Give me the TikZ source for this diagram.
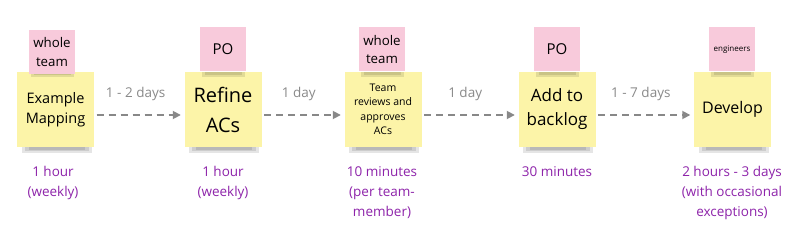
\documentclass[tikz,border=0pt]{standalone}
\usepackage{fontspec}
\setmainfont{Open Sans}
\usetikzlibrary{arrows.meta}
\definecolor{yel}{HTML}{FCF4A8}
\definecolor{pnk}{HTML}{F8CADB}
\definecolor{purp}{HTML}{8E24AA}
\definecolor{arr}{HTML}{888888}
\definecolor{lab}{HTML}{8A8A8A}
\begin{document}
\begin{tikzpicture}[x=1pt,y=-1pt,
  note/.style={rectangle, fill=yel, minimum width=77pt, minimum height=75pt, inner sep=0pt, align=center, text=black},
  tag/.style={rectangle, fill=pnk, minimum width=46pt, minimum height=44pt, inner sep=0pt, align=center, text=black},
  dur/.style={align=center, inner sep=0pt, text=purp, font=\fontsize{13.5}{20}\selectfont, anchor=north},
  flow/.style={draw=arr, line width=1.7pt, dash pattern=on 7pt off 5pt, shorten <=2.5pt, shorten >=3.5pt, -{Triangle[length=8pt,width=8pt]}},
  gap/.style={text=lab, font=\fontsize{13.5}{16}\selectfont, inner sep=0pt},
  shade/.style={fill=black, opacity=0.10}]
\useasboundingbox (0,0) rectangle (800,235);
\fill[white] (0,0) rectangle (800,235);
% shadows of the notes
\foreach \x in {55.5,223,383,557,732.5}{
  \fill[shade] (\x-34,144) rectangle (\x+36,153);
  \fill[shade] (\x-31,145) rectangle (\x+33,151);
  \fill[shade] (\x-27,146) rectangle (\x+29,150);
}
% notes
\node[note, font=\fontsize{14.5}{20.5}\selectfont] (s1) at (55.5,109.5) {Example\\Mapping};
\node[note, font=\fontsize{20}{30}\selectfont] (s2) at (223,109.5) {Refine\\ACs};
\node[note, font=\fontsize{10.5}{14.5}\selectfont] (s3) at (383,109.5) {Team\\reviews and\\approves\\ACs};
\node[note, font=\fontsize{17}{24}\selectfont] (s4) at (557,109.5) {Add to\\backlog};
\node[note, font=\fontsize{16}{20}\selectfont] (s5) at (732.5,109.5) {Develop};
% shadows of the tags on the notes
\foreach \n/\dx in {s1/-3.5,s2/0,s3/-1,s4/0,s5/-0.5}{
  \fill[shade] ([xshift=\dx pt-21pt]\n.north) rectangle ([xshift=\dx pt+22pt,yshift=-5pt]\n.north);
  \fill[shade] ([xshift=\dx pt-18pt]\n.north) rectangle ([xshift=\dx pt+19pt,yshift=-3pt]\n.north);
}
% tags
\node[tag, font=\fontsize{13.3}{18.5}\selectfont] (t1) at (52,52) {whole\\team};
\node[tag, font=\fontsize{15}{18}\selectfont] (t2) at (223,49.5) {PO};
\node[tag, font=\fontsize{13.3}{18.5}\selectfont] (t3) at (382,49.5) {whole\\team};
\node[tag, font=\fontsize{15}{18}\selectfont] (t4) at (557,49.5) {PO};
\node[tag, font=\fontsize{8}{10}\selectfont] (t5) at (732,49.5) {engineers};
% connectors
\draw[flow] ([yshift=-5.5pt]s1.east) -- node[gap, pos=0.46, yshift=21.5pt] (g1) {1 - 2 days} ([yshift=-5.5pt]s2.west);
\draw[flow] ([yshift=-5.5pt]s2.east) -- node[gap, pos=0.45, yshift=21.5pt] (g2) {1 day} ([yshift=-5.5pt]s3.west);
\draw[flow] ([yshift=-5.5pt]s3.east) -- node[gap, pos=0.45, yshift=21.5pt] (g3) {1 day} ([yshift=-5.5pt]s4.west);
\draw[flow] ([yshift=-5.5pt]s4.east) -- node[gap, pos=0.46, yshift=21.5pt] (g4) {1 - 7 days} ([yshift=-5.5pt]s5.west);
% durations
\node[dur] (d1) at (53,166) {1 hour\\(weekly)};
\node[dur] (d2) at (223,166) {1 hour\\(weekly)};
\node[dur] (d3) at (382,166) {10 minutes\\(per team-\\member)};
\node[dur] (d4) at (557,166) {30 minutes};
\node[dur] (d5) at (732,166) {2 hours - 3 days\\(with occasional\\exceptions)};
\end{tikzpicture}
\end{document}
